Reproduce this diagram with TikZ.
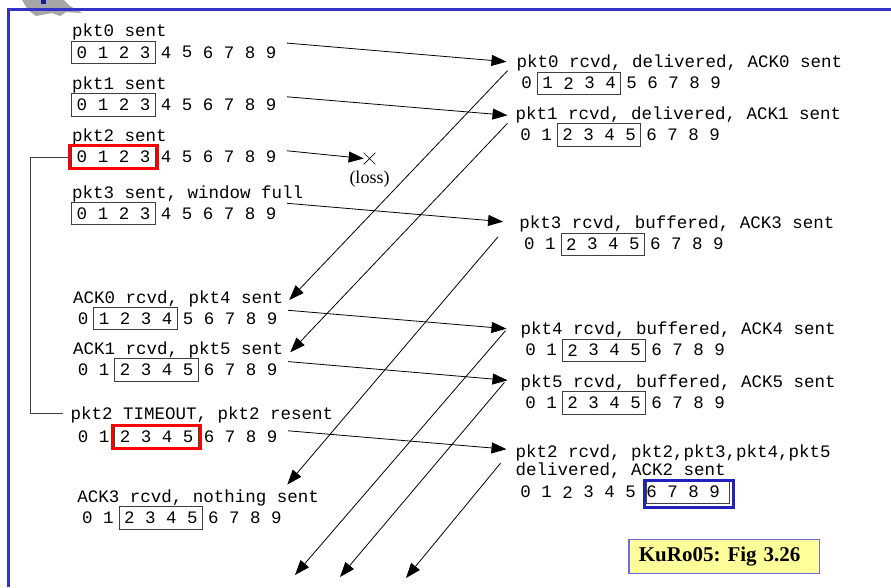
\documentclass[tikz,border=0pt]{standalone}
\usepackage{fontspec}
\setmonofont{Liberation Mono}
\newfontfamily\figserif{Liberation Serif}
\usetikzlibrary{arrows.meta,positioning,fit,shapes.misc}

\definecolor{cadre}{RGB}{51,51,204}
\definecolor{bleuack}{RGB}{34,34,187}
\definecolor{notefond}{RGB}{255,255,153}
\definecolor{notebord}{RGB}{110,110,215}

% une fenetre : nom, x du 0, y, debut et fin du cadre
\newcommand{\fen}[6][0]{%
 \foreach \x in {0,...,9}
  \node[chiffre] (#2-\x) at (#3+21*\x,#4) {\x};
 \draw[fenetre] ([xshift=#1pt]#2-#5.north west) rectangle ([xshift=#1pt]#2-#6.south east);
}

\begin{document}
\begin{tikzpicture}[x=1pt, y=-1pt, >={Triangle[length=15pt,width=11pt]},
 chiffre/.style={font=\ttfamily\fontsize{17.5}{20}\selectfont, inner sep=0pt, minimum width=20pt, minimum height=22pt},
 texte/.style={font=\ttfamily\fontsize{17.5}{20}\selectfont, inner sep=0pt, anchor=base west},
 fenetre/.style={draw=black!75, line width=0.9pt},
 envoi/.style={->, line width=0.8pt},
 rouge/.style={draw=red, line width=3pt, inner xsep=2pt, inner ysep=0.5pt},
 note/.style={anchor=north west, draw=notebord, fill=notefond, line width=1.2pt, font=\figserif\bfseries\fontsize{21}{24}\selectfont, text width=170.7pt, align=left, inner xsep=10pt, inner ysep=0pt, minimum height=33.7pt}]
 \useasboundingbox (0,0) rectangle (891,587);

	% Logo et cadre
 \fill[gray!70] (22,0) -- (64,0) -- (70,6) -- (82,13) -- (66,12) -- (60,16) -- (52,13) -- (36,16) -- (28,10) -- cycle;
 \fill[bleuack!80!black] (40.7,0) rectangle (45.7,4);
 \draw[cadre, line width=3pt] (8,587) -- (8,9.7) -- (891,9.7);

	% Emetteur
 \fen{A}{82}{52.3}{0}{3}
 \fen{B}{82}{105}{0}{3}
 \fen{C}{82}{157}{0}{3}
 \fen{D}{82}{213.5}{0}{3}
 \fen{E}{83}{318.5}{1}{4}
 \fen{F}{83}{369.8}{2}{5}
 \fen{G}{83}{437}{2}{5}
 \fen{H}{87.3}{517.8}{2}{5}
 \node[texte] (Al) at ([shift={(0,-15.5)}]A-0.west) {pkt0 sent};
 \node[texte] (Bl) at ([shift={(0,-15.5)}]B-0.west) {pkt1 sent};
 \node[texte] (Cl) at ([shift={(0,-15.5)}]C-0.west) {pkt2 sent};
 \node[texte] (Dl) at ([shift={(0,-15.5)}]D-0.west) {pkt3 sent, window full};
 \node[texte] (El) at ([shift={(0,-15.5)}]E-0.west) {ACK0 rcvd, pkt4 sent};
 \node[texte] (Fl) at ([shift={(0,-15.5)}]F-0.west) {ACK1 rcvd, pkt5 sent};
 \node[texte] (Gl) at ([shift={(-2.3,-17.5)}]G-0.west) {pkt2 TIMEOUT, pkt2 resent};
 \node[texte] (Hl) at ([shift={(0,-15.5)}]H-0.west) {ACK3 rcvd, nothing sent};
 \node[rouge, fit=(C-0)(C-3)] (perteC) {};
 \node[rouge, fit=(G-2)(G-5)] (perteG) {};

	% Recepteur
 \fen{R0}{526.7}{83.2}{1}{4}
 \fen{R1}{525.7}{134.8}{2}{5}
 \fen{R3}{529.3}{244.2}{2}{5}
 \fen{R4}{530.7}{350.2}{2}{5}
 \fen{R5}{530.7}{402.8}{2}{5}
 \fen[5]{R2}{525.7}{492.2}{6}{9}
 \node[texte] (R0l) at ([shift={(0,-15.5)}]R0-0.west) {pkt0 rcvd, delivered, ACK0 sent};
 \node[texte] (R1l) at ([shift={(0,-15.5)}]R1-0.west) {pkt1 rcvd, delivered, ACK1 sent};
 \node[texte] (R3l) at ([shift={(0,-15.5)}]R3-0.west) {pkt3 rcvd, buffered, ACK3 sent};
 \node[texte] (R4l) at ([shift={(0,-15.5)}]R4-0.west) {pkt4 rcvd, buffered, ACK4 sent};
 \node[texte] (R5l) at ([shift={(0,-15.5)}]R5-0.west) {pkt5 rcvd, buffered, ACK5 sent};
 \node[texte, align=left, font=\ttfamily\fontsize{17.5}{17.5}\selectfont] (R2l) at ([shift={(0,-17)}]R2-0.west) {pkt2 rcvd, pkt2,pkt3,pkt4,pkt5\\delivered, ACK2 sent};
 \draw[bleuack, line width=3pt] ([shift={(3,-1)}]R2-6.north west) rectangle ([shift={(8.5,4.5)}]R2-9.south east);

	% Perte de pkt2
 \node[draw, cross out, minimum size=11pt, inner sep=0pt, line width=0.7pt] (perte) at (369.5,158.5) {};
 \node[below=6pt of perte, inner sep=0pt, font=\figserif\fontsize{18}{20}\selectfont] (pertetxt) {(loss)};

	% Paquets
 \draw[envoi] ([shift={(6,2)}]A-9.north east) -- ([shift={(-10,-6)}]R0l.base west);
 \draw[envoi] ([shift={(6,3)}]B-9.north east) -- ([shift={(-8,-4)}]R1l.base west);
 \draw[envoi] ([shift={(6,5)}]C-9.north east) -- (perte.west);
 \draw[envoi] ([shift={(6,1)}]D-9.north east) -- ([shift={(-16,-7)}]R3l.base west);
 \draw[envoi] ([shift={(6,3)}]E-9.north east) -- ([shift={(-14,-6)}]R4l.base west);
 \draw[envoi] ([shift={(6,3)}]F-9.north east) -- ([shift={(-13,-7)}]R5l.base west);
 \draw[envoi] ([shift={(6,5)}]G-9.north east) -- ([shift={(-9,-26)}]R2l.base west);

	% ACK
 \coordinate (fin4) at (295,575);
 \coordinate (fin5) at (340,577);
 \coordinate (fin2) at (406,578);
 \draw[envoi] ([shift={(-9,3)}]R0l.base west) -- ([shift={(6,-3)}]El.base east);
 \draw[envoi] ([shift={(-8,4)}]R1l.base west) -- ([shift={(7,-2)}]Fl.base east);
 \draw[envoi] ([shift={(-21,8)}]R3l.base west) -- ([shift={(11,-22)}]H-9.north);
 \draw[envoi] ([shift={(-15,-4)}]R4l.base west) -- (fin4);
 \draw[envoi] ([shift={(-16,-5)}]R5l.base west) -- (fin5);
 \draw[envoi] ([shift={(-15,-12)}]R2l.base west) -- (fin2);

	% Timeout
 \draw[fenetre] (perteC.west) -- ++(-38,0) |- ([shift={(-8,-2)}]Gl.west);

	% Reference
 \node[note] (fig) at (628.3,539) {KuRo05:\ Fig 3.26};

\end{tikzpicture}
\end{document}
